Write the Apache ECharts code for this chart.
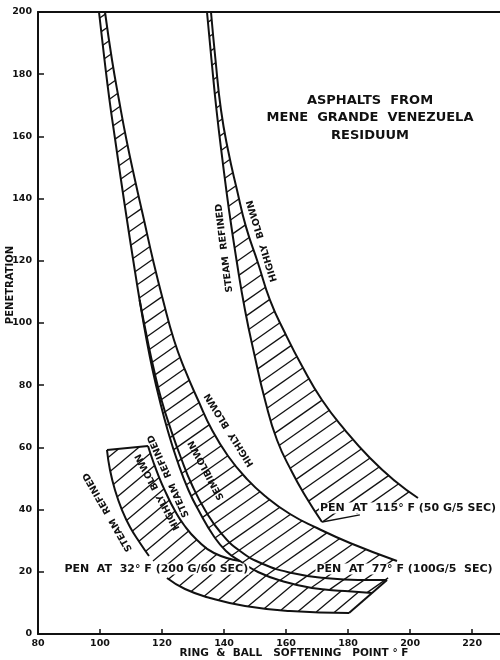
<!DOCTYPE html>
<html>
<head>
<meta charset="utf-8">
<script src="https://cdn.jsdelivr.net/npm/echarts@6/dist/echarts.min.js"></script>
<style>
  html, body { margin: 0; padding: 0; background: #fff; }
  #chart { width: 500px; height: 660px; }
</style>
</head>
<body>
<div id="chart"></div>
<script>
// Axis ticks
const xTicks = [80, 100, 120, 140, 160, 180, 200, 220];
const yTicks = [0, 20, 40, 60, 80, 100, 120, 140, 160, 180, 200];

// Boundary curves: [ring & ball softening point °F, penetration]
// Penetration at 115°F (50 g / 5 sec)
const pen115SteamRefined = [[134.50,200],[135.96,184.57],[137.57,168.49],[139.50,152.41],[141.60,136.33],[144.02,120.26],[146.76,104.18],[149.82,89.71],[153.21,75.24],[157.08,62.38],[161.92,52.09],[166.43,44.05],[171.59,36.01]];
const pen115HighlyBlown = [[135.79,200],[137.25,184.57],[139.02,168.49],[141.28,155.63],[144.18,142.77],[147.08,130.90],[150.95,119.31],[154.82,107.39],[159.66,96.78],[165.14,86.17],[171.59,75.24],[179.01,65.59],[187.07,56.59],[195.14,49.20],[202.55,43.73]];

// Penetration at 77°F (100 g / 5 sec)
const pen77SteamRefined = [[99.67,200],[101.45,184.57],[103.06,171.70],[104.90,158.84],[106.77,145.98],[108.70,133.12],[110.70,120.26],[112.77,107.39],[115.03,94.53],[116.96,84.89],[119.22,75.24],[121.80,65.59],[124.83,55.95],[128.51,46.30],[132.25,38.91],[136.44,31.83],[140.63,26.69],[145.15,23.47],[150.95,19.94],[158.69,17.04],[168.37,14.79],[179.01,13.83],[187.72,13.18]];
const pen77Semiblown = [[112.77,107.39],[115.31,94.53],[117.41,84.89],[119.83,75.24],[122.89,65.59],[126.12,56.59],[129.67,47.91],[133.86,39.87],[139.02,32.48],[145.15,26.69],[152.56,22.51],[161.92,19.61],[172.56,18.01],[183.20,17.36],[192.56,17.36]];
const pen77HighlyBlown = [[101.61,200],[103.87,184.57],[106.12,171.70],[108.54,158.84],[111.28,145.98],[114.19,133.12],[117.09,120.26],[120.31,107.39],[123.86,94.53],[127.41,84.89],[131.60,75.24],[136.12,65.59],[141.28,57.23],[147.08,50.16],[153.21,44.37],[161.27,38.58],[169.98,34.08],[180.62,29.26],[195.78,23.47]];

// Penetration at 32°F (200 g / 60 sec); the steam refined curve is broken by its caption,
// the highly blown curve runs into the 77°F steam refined curve
const pen32SteamRefinedUpper = [[102.25,59.16],[103.22,52.73],[104.83,46.30],[107.09,39.87],[109.67,34.40],[112.90,29.26],[115.80,25.08]];
const pen32SteamRefinedLower = [[121.60,18.01],[127.41,14.47],[135.47,11.58],[146.76,9.00],[161.27,7.40],[180.30,6.75]];
const pen32HighlyBlown = [[115.48,60.45],[117.09,55.63],[119.02,50.48],[121.28,45.34],[123.86,40.19],[127.09,35.05],[131.28,30.22],[136.76,26.04],[145.15,23.47]];

// Leader from the 115°F caption to its band
const pen115Leader = [[171.59,36.01],[183.8,38.3]];

// Curve captions: [softening point, penetration, text, angle°]
const curveCaptions = [
  [140.1, 124.1, 'STEAM  REFINED', 97],
  [152.3, 126.4, 'HIGHLY  BLOWN', 107],
  [141.7, 65.6, 'HIGHLY  BLOWN', 122],
  [134.3, 52.7, 'SEMIBLOWN', 118],
  [122.1, 50.8, 'STEAM  REFINED', 114],
  [118.6, 45.7, 'HIGHLY  BLOWN', 118],
  [102.5, 39.2, 'STEAM  REFINED', 120]
];
// Temperature captions: [softening point, penetration, text]
const penCaptions = [
  [88.2, 20.9, 'PEN  AT  32° F (200 G/60 SEC)'],
  [169.5, 20.9, 'PEN  AT  77° F (100G/5  SEC)'],
  [170.6, 40.5, 'PEN  AT  115° F (50 G/5 SEC)']
];

const INK = '#111';
const FONT = 'DejaVu Sans';

const junction = pen32HighlyBlown[pen32HighlyBlown.length - 1];
const sbEnd = pen77Semiblown[pen77Semiblown.length - 1];

// Hatched bands: outline = one boundary followed by the other reversed
const bands = [
  { left: pen115SteamRefined, right: pen115HighlyBlown, angle: 35, gap: 12.5 },
  { left: pen77SteamRefined.concat([sbEnd]), right: pen77HighlyBlown, angle: 35, gap: 12 },
  { left: pen32SteamRefinedUpper.concat(pen32SteamRefinedLower),
    right: pen32HighlyBlown.concat(pen77SteamRefined.filter(p => p[0] > junction[0])), angle: 40, gap: 12 }
];

function hatchRenderer(band) {
  return function (params, api) {
    const poly = band.left.concat(band.right.slice().reverse()).map(p => api.coord(p));
    const a = band.angle * Math.PI / 180;
    const d = [Math.cos(a), -Math.sin(a)];
    const n = [Math.sin(a), Math.cos(a)];
    let pmin = Infinity, pmax = -Infinity;
    poly.forEach(v => {
      const p = v[0] * n[0] + v[1] * n[1];
      pmin = Math.min(pmin, p); pmax = Math.max(pmax, p);
    });
    const children = [];
    for (let p = Math.ceil(pmin / band.gap) * band.gap; p < pmax; p += band.gap) {
      const hits = [];
      for (let i = 0; i < poly.length; i++) {
        const A = poly[i], B = poly[(i + 1) % poly.length];
        const pa = A[0] * n[0] + A[1] * n[1], pb = B[0] * n[0] + B[1] * n[1];
        if ((pa < p) !== (pb < p)) {
          const t = (p - pa) / (pb - pa);
          hits.push([A[0] + t * (B[0] - A[0]), A[1] + t * (B[1] - A[1])]);
        }
      }
      hits.sort((u, v) => (u[0] * d[0] + u[1] * d[1]) - (v[0] * d[0] + v[1] * d[1]));
      for (let k = 0; k + 1 < hits.length; k += 2) {
        children.push({
          type: 'line',
          shape: { x1: hits[k][0], y1: hits[k][1], x2: hits[k + 1][0], y2: hits[k + 1][1] },
          style: { stroke: INK, lineWidth: 1.3 }
        });
      }
    }
    return { type: 'group', children };
  };
}

function curve(data, smooth) {
  return {
    type: 'line', data, showSymbol: false, smooth: smooth === undefined ? 0.5 : smooth, silent: true, z: 4,
    lineStyle: { color: INK, width: 2 }
  };
}

const series = [];
bands.forEach(b => series.push({
  type: 'custom', renderItem: hatchRenderer(b), data: [[b.left[0][0], b.left[0][1]]],
  silent: true, z: 3, clip: true
}));
[pen115SteamRefined, pen115HighlyBlown, pen77SteamRefined, pen77Semiblown, pen77HighlyBlown,
 pen32SteamRefinedUpper, pen32SteamRefinedLower, pen32HighlyBlown].forEach(c => series.push(curve(c)));
// band end caps
series.push(curve([pen32SteamRefinedUpper[0], pen32HighlyBlown[0]], false));
series.push(curve([pen32SteamRefinedLower[pen32SteamRefinedLower.length - 1], sbEnd], false));
series.push(Object.assign(curve(pen115Leader, false), { lineStyle: { color: INK, width: 1.5 } }));

series.push({
  type: 'custom', silent: true, z: 5,
  data: curveCaptions.map(c => [c[0], c[1]]),
  renderItem: function (params, api) {
    const c = curveCaptions[params.dataIndex];
    const pt = api.coord([c[0], c[1]]);
    return {
      type: 'text', x: pt[0], y: pt[1], rotation: c[3] * Math.PI / 180,
      style: { text: c[2], fill: INK, font: 'bold 9.5px "' + FONT + '"', align: 'center', verticalAlign: 'middle' }
    };
  }
});
series.push({
  type: 'custom', silent: true, z: 6,
  data: penCaptions.map(c => [c[0], c[1]]),
  renderItem: function (params, api) {
    const c = penCaptions[params.dataIndex];
    const pt = api.coord([c[0], c[1]]);
    return {
      type: 'text', x: pt[0], y: pt[1],
      style: { text: c[2], fill: INK, font: 'bold 11px "' + FONT + '"', align: 'left', verticalAlign: 'middle',
               backgroundColor: '#fff', padding: [0, 1] }
    };
  }
});

const chart = echarts.init(document.getElementById('chart'), null, { renderer: 'canvas' });
chart.setOption({
  animation: false,
  backgroundColor: '#fff',
  grid: { left: 38, top: 12, width: 462, height: 622, containLabel: false },
  xAxis: [{
    type: 'value', min: 80, max: 229, position: 'bottom',
    axisLine: { show: true, lineStyle: { color: INK, width: 2 } },
    axisTick: { show: true, inside: true, length: 5, customValues: xTicks, lineStyle: { color: INK, width: 1.5 } },
    axisLabel: { customValues: xTicks, color: INK, fontFamily: FONT, fontWeight: 'bold', fontSize: 9.5, margin: 5 },
    splitLine: { show: false }
  }, {
    type: 'value', min: 80, max: 229, position: 'top',
    axisLine: { show: true, lineStyle: { color: INK, width: 2 } },
    axisTick: { show: false }, axisLabel: { show: false }, splitLine: { show: false }
  }],
  yAxis: {
    type: 'value', min: 0, max: 200,
    axisLine: { show: true, lineStyle: { color: INK, width: 2 } },
    axisTick: { show: true, inside: true, length: 6, customValues: yTicks, lineStyle: { color: INK, width: 1.5 } },
    axisLabel: { customValues: yTicks, color: INK, fontFamily: FONT, fontWeight: 'bold', fontSize: 9.5, margin: 6 },
    splitLine: { show: false }
  },
  graphic: [
    { type: 'text', x: 370, y: 101, style: { text: 'ASPHALTS  FROM', fill: INK, font: 'bold 13px "' + FONT + '"', align: 'center', verticalAlign: 'middle' } },
    { type: 'text', x: 370, y: 118, style: { text: 'MENE  GRANDE  VENEZUELA', fill: INK, font: 'bold 13px "' + FONT + '"', align: 'center', verticalAlign: 'middle' } },
    { type: 'text', x: 370, y: 136, style: { text: 'RESIDUUM', fill: INK, font: 'bold 13px "' + FONT + '"', align: 'center', verticalAlign: 'middle' } },
    { type: 'text', x: 10, y: 285, rotation: Math.PI / 2, style: { text: 'PENETRATION', fill: INK, font: 'bold 10px "' + FONT + '"', align: 'center', verticalAlign: 'middle' } },
    { type: 'text', x: 294, y: 653, style: { text: 'RING  &  BALL   SOFTENING   POINT ° F', fill: INK, font: 'bold 10.5px "' + FONT + '"', align: 'center', verticalAlign: 'middle' } }
  ],
  series
});
</script>
</body>
</html>
